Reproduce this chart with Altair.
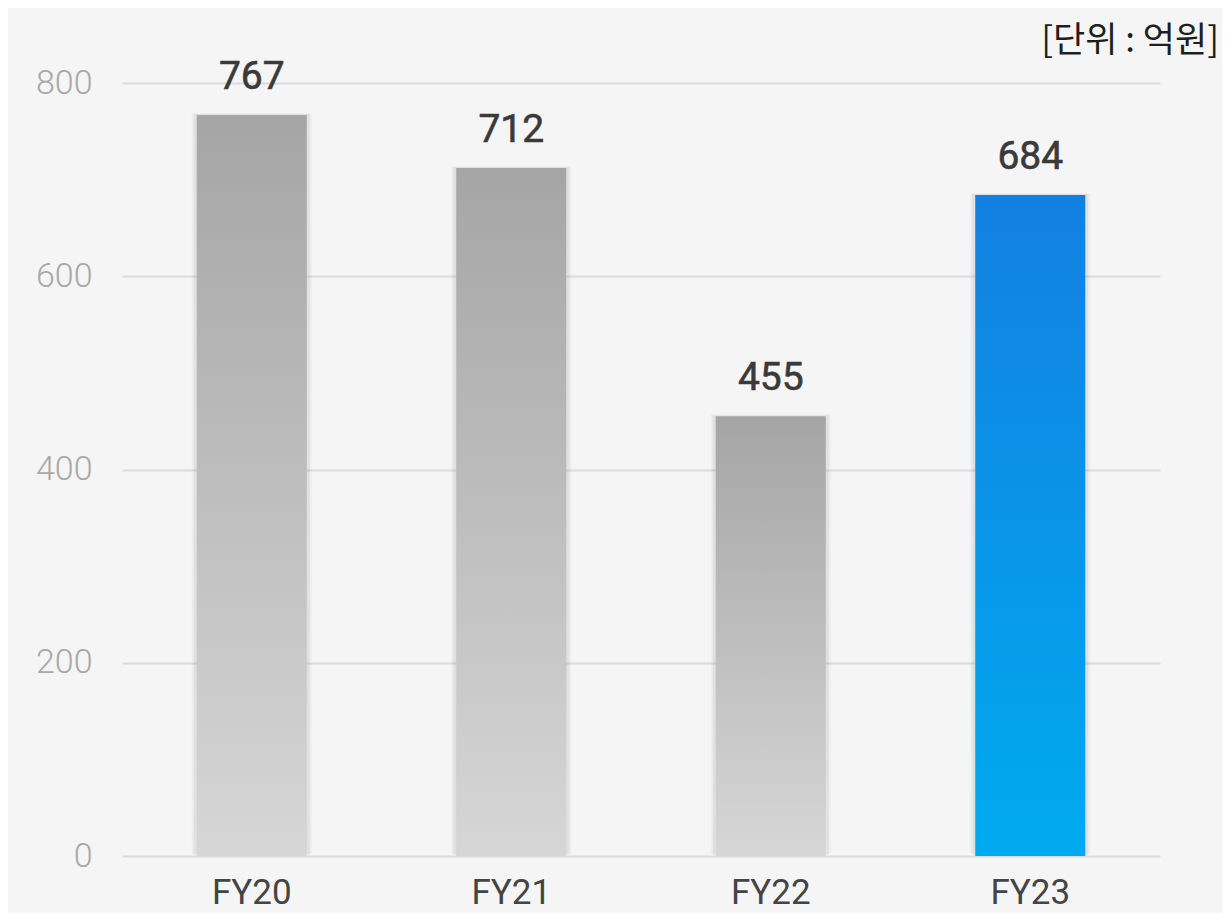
import altair as alt
import pandas as pd

categories = ["FY20", "FY21", "FY22", "FY23"]
values = [767, 712, 455, 684]
highlight = [False, False, False, True]
y_ticks = [0, 200, 400, 600, 800]
unit_label = "[단위 : 억원]"

df = pd.DataFrame({"cat": categories, "val": values, "hl": highlight})

W, H = 1038, 773

x_enc = alt.X("cat:N", sort=categories,
              scale=alt.Scale(paddingInner=0.576, paddingOuter=0.288),
              axis=alt.Axis(title=None, labelAngle=0, ticks=False, domain=False,
                            labelFont="Roboto", labelFontSize=35, labelColor="#444444",
                            labelBaseline="top", labelPadding=19, grid=False))
y_enc = alt.Y("val:Q", scale=alt.Scale(domain=[0, 800], nice=False),
              axis=alt.Axis(title=None, values=y_ticks, ticks=False, domain=False,
                            labelFont="Roboto", labelFontWeight=300, labelFontSize=34,
                            labelColor="#a8a8a8", labelPadding=30,
                            gridColor="#dcdcdc", gridWidth=2))

gray_grad = alt.Gradient(gradient="linear", x1=0, y1=0, x2=0, y2=1,
                         stops=[alt.GradientStop(color="#a5a5a5", offset=0),
                                alt.GradientStop(color="#d6d6d6", offset=1)])
blue_grad = alt.Gradient(gradient="linear", x1=0, y1=0, x2=0, y2=1,
                         stops=[alt.GradientStop(color="#1380e0", offset=0),
                                alt.GradientStop(color="#00aaf0", offset=1)])

base = alt.Chart(df).encode(x=x_enc, y=y_enc)

shadow1 = base.mark_bar(size=120, color="#000000", opacity=0.03, yOffset=-2)
shadow2 = base.mark_bar(size=116, color="#000000", opacity=0.05, yOffset=-1)
gray = base.transform_filter("!datum.hl").mark_bar(color=gray_grad)
blue = base.transform_filter("datum.hl").mark_bar(color=blue_grad)
labels = base.mark_text(dy=-26, baseline="alphabetic", font="Roboto", fontWeight="normal",
                        fontSize=39, color="#3a3a3a", stroke="#3a3a3a",
                        strokeWidth=0.6).encode(text="val:Q")

unit = alt.Chart(pd.DataFrame({"t": [unit_label]})).mark_text(
    align="right", baseline="alphabetic", font="Noto Sans CJK KR", fontSize=35,
    color="#1e1e1e").encode(x=alt.value(1097), y=alt.value(-31), text="t:N")

chart = alt.layer(shadow1, shadow2, gray, blue, labels, unit).properties(
    width=W, height=H,
    autosize=alt.AutoSizeParams(type="none"),
    padding={"left": 114, "top": 75, "right": 62, "bottom": 57},
    background="#f5f5f5",
).configure_view(stroke=None)

chart.save("out.html", embed_options={"renderer": "svg", "actions": False})
